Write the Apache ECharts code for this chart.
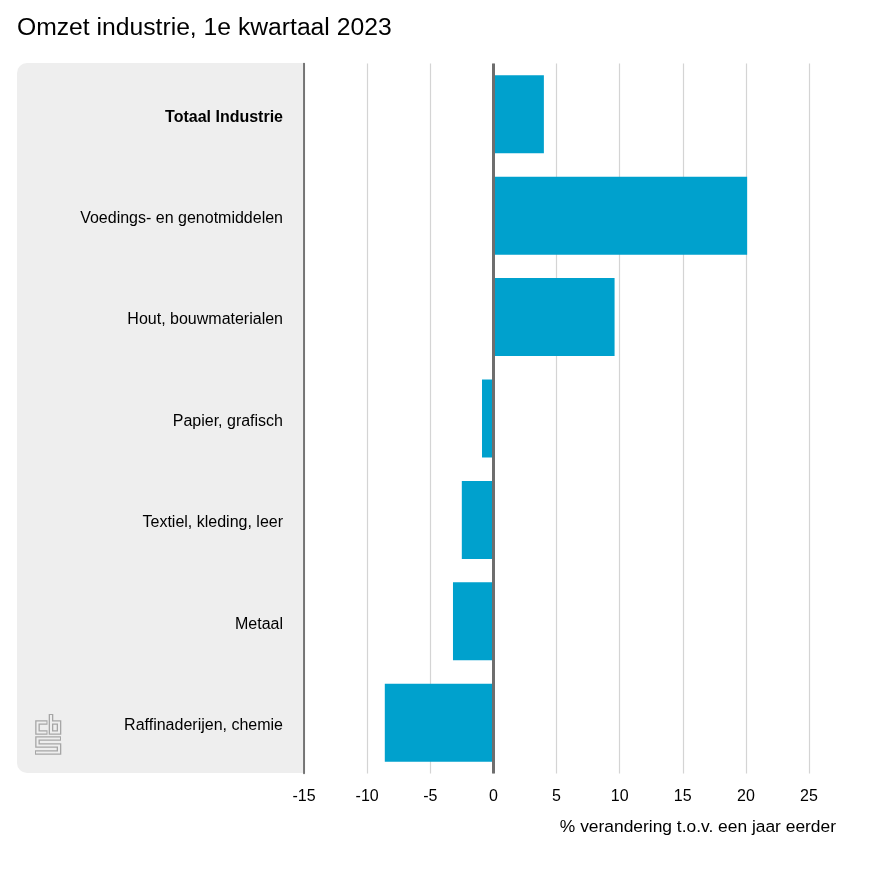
<!DOCTYPE html>
<html>
<head>
<meta charset="utf-8">
<style>
html, body { margin: 0; padding: 0; background: #fff; }
#chart { width: 874px; height: 874px; }
</style>
<script src="https://cdn.jsdelivr.net/npm/echarts@6/dist/echarts.min.js"></script>
</head>
<body>
<div id="chart"></div>
<script>
var categories = ['Totaal Industrie', 'Voedings- en genotmiddelen', 'Hout, bouwmaterialen', 'Papier, grafisch', 'Textiel, kleding, leer', 'Metaal', 'Raffinaderijen, chemie'];
var omzet = [4.0, 20.1, 9.6, -0.9, -2.5, -3.2, -8.6];

var FONT = '"Liberation Sans", Arial, sans-serif';
var myChart = echarts.init(document.getElementById('chart'), null, {renderer: 'canvas'});

// cbs logo: a wide grey stroke with a panel coloured stroke on top gives the double line
function logoLine(outer, inner) {
    return [
        {type: 'polyline', z: 1, shape: {points: outer}, style: {fill: 'none', stroke: '#a6a6a6', lineWidth: 4.6, lineJoin: 'miter'}},
        {type: 'polyline', z: 2, shape: {points: inner}, style: {fill: 'none', stroke: '#eeeeee', lineWidth: 2, lineJoin: 'miter'}}
    ];
}

var logo = [].concat(
    logoLine([[47.5, 722.5], [37.5, 722.5], [37.5, 732.5], [47.5, 732.5]], [[46.5, 722.5], [37.5, 722.5], [37.5, 732.5], [46.5, 732.5]]),
    logoLine([[51, 714], [51, 732.5], [59, 732.5], [59, 722.5], [51, 722.5]], [[51, 715], [51, 732.5], [59, 732.5], [59, 722.5], [51, 722.5]]),
    logoLine([[61, 738.5], [37.5, 738.5], [37.5, 745.5], [59, 745.5], [59, 752.5], [35, 752.5]], [[60, 738.5], [37.5, 738.5], [37.5, 745.5], [59, 745.5], [59, 752.5], [36, 752.5]])
);

var option = {
    backgroundColor: '#fff',
    animation: false,
    title: {
        text: 'Omzet industrie, 1e kwartaal 2023',
        left: 12,
        top: 11,
        textStyle: {fontFamily: FONT, fontSize: 24.7, fontWeight: 'normal', color: '#000'}
    },
    graphic: [{
        type: 'rect',
        z: 0,
        shape: {x: 17, y: 63, width: 287, height: 710, r: [10, 0, 0, 10]},
        style: {fill: '#eeeeee'}
    }].concat(logo),
    grid: {left: 304, top: 63.5, width: 505, height: 710, containLabel: false},
    xAxis: {
        type: 'value',
        min: -15,
        max: 25,
        interval: 5,
        axisLine: {show: false},
        axisTick: {show: false},
        splitLine: {show: true, lineStyle: {color: '#d4d4d4', width: 1.2}},
        axisLabel: {margin: 15, fontFamily: FONT, fontSize: 16, color: '#000'},
        name: '% verandering t.o.v. een jaar eerder',
        nameLocation: 'end',
        nameGap: 27,
        nameTextStyle: {
            fontFamily: FONT, fontSize: 17.4, color: '#000',
            align: 'right', verticalAlign: 'top', padding: [45, 0, 0, 0]
        }
    },
    yAxis: {
        type: 'category',
        inverse: true,
        data: categories,
        axisLine: {show: true, onZero: false, lineStyle: {color: '#555', width: 1.5}},
        axisTick: {show: false},
        axisLabel: {
            margin: 21,
            fontFamily: FONT,
            fontSize: 16,
            color: '#000',
            padding: [6, 0, 0, 0],
            formatter: function (value, index) {
                return index === 0 ? '{b|' + value + '}' : value;
            },
            rich: {
                b: {fontFamily: FONT, fontSize: 16, fontWeight: 'bold', color: '#000'}
            }
        }
    },
    series: [{
        type: 'bar',
        data: omzet,
        barWidth: 78,
        itemStyle: {color: '#00a1cd'},
        markLine: {
            silent: true,
            symbol: 'none',
            label: {show: false},
            lineStyle: {color: '#6e6e6e', width: 3, type: 'solid'},
            data: [{xAxis: 0}]
        }
    }]
};
myChart.setOption(option);
</script>
</body>
</html>
